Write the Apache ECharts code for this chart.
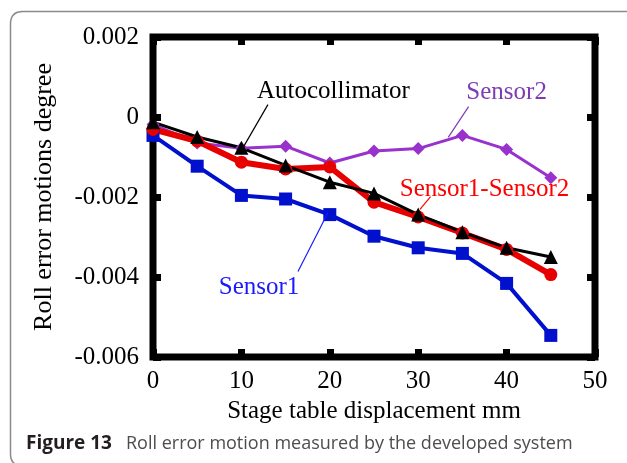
<!DOCTYPE html>
<html>
<head>
<meta charset="utf-8">
<script src="https://cdn.jsdelivr.net/npm/echarts@6/dist/echarts.min.js"></script>
<style>
    html, body { margin: 0; padding: 0; background: #fff; }
    #chart { width: 627px; height: 463px; }
</style>
</head>
<body>
<div id="chart"></div>
<script>
// 数据：位移 (mm) 与四条测量曲线 (degree)
const displacement = [0, 5, 10, 15, 20, 25, 30, 35, 40, 45];
const sensor1 = [-0.00046, -0.00123, -0.00196, -0.00205, -0.00244, -0.00298, -0.00327, -0.00341, -0.00416, -0.00546];
const sensor2 = [-0.00019, -0.00065, -0.00078, -0.00073, -0.00115, -0.00085, -0.00079, -0.00046, -0.00081, -0.00152];
const sensorDiff = [-0.00031, -0.00060, -0.00113, -0.00130, -0.00125, -0.00213, -0.00250, -0.00290, -0.00331, -0.00394];
const autocollimator = [-0.00013, -0.00050, -0.00077, -0.00121, -0.00163, -0.00191, -0.00244, -0.00288, -0.00327, -0.00350];
const yTickLabels = ['-0.006', '-0.004', '-0.002', '0', '0.002'];
const xTickLabels = ['0', '10', '20', '30', '40', '50'];

// 注释文字及引线（数据坐标）
const notes = [
    { text: 'Autocollimator', color: '#000000', at: [20.4, 0.00064], line: [[13.0, 0.00031], [10.2, -0.00076]] },
    { text: 'Sensor2', color: '#7e3cb4', at: [40.0, 0.00061], line: [[35.7, 0.00026], [33.4, -0.00051]] },
    { text: 'Sensor1-Sensor2', color: '#ff0000', at: [37.5, -0.00181], line: [[31.4, -0.00199], [30.2, -0.00231]] },
    { text: 'Sensor1', color: '#1a1aff', at: [12.0, -0.00426], line: [[16.4, -0.00386], [19.8, -0.00239]] }
];

const serif = 'Liberation Serif';
const chart = echarts.init(document.getElementById('chart'));

function pairs(ys) {
    return ys.map((y, i) => [displacement[i], y]);
}

const tickStyle = { inside: true, length: 8, lineStyle: { color: '#000', width: 7 } };
const noLine = { show: false, onZero: false };

const option = {
    animation: false,
    grid: {
        left: 153, right: 32, top: 37, bottom: 106,
        show: true, borderColor: '#000', borderWidth: 7, backgroundColor: 'transparent'
    },
    xAxis: [{
        type: 'value', min: 0, max: 50, interval: 10,
        axisLine: noLine,
        axisTick: tickStyle,
        splitLine: { show: false },
        axisLabel: {
            color: '#000', fontFamily: serif, fontSize: 25, margin: 12,
            formatter: v => xTickLabels[Math.round(v / 10)]
        },
        name: 'Stage table displacement mm',
        nameLocation: 'middle', nameGap: 41,
        nameTextStyle: { color: '#000', fontFamily: serif, fontSize: 25 }
    }, {
        type: 'value', min: 0, max: 50, interval: 10, position: 'top',
        axisLine: noLine, axisTick: tickStyle,
        axisLabel: { show: false }, splitLine: { show: false }
    }],
    yAxis: [{
        type: 'value', min: -0.006, max: 0.002, interval: 0.002,
        axisLine: noLine,
        axisTick: tickStyle,
        splitLine: { show: false },
        axisLabel: {
            color: '#000', fontFamily: serif, fontSize: 25, margin: 14,
            formatter: v => yTickLabels[Math.round((v + 0.006) / 0.002)]
        },
        name: 'Roll error motions degree',
        nameLocation: 'middle', nameGap: 96,
        nameTextStyle: { color: '#000', fontFamily: serif, fontSize: 26 }
    }, {
        type: 'value', min: -0.006, max: 0.002, interval: 0.002, position: 'right',
        axisLine: noLine, axisTick: tickStyle,
        axisLabel: { show: false }, splitLine: { show: false }
    }],
    series: [
        {
            name: 'Sensor1', type: 'line', data: pairs(sensor1),
            symbol: 'rect', symbolSize: 13,
            lineStyle: { color: '#0010cc', width: 4 },
            itemStyle: { color: '#0010cc' }
        },
        {
            name: 'Sensor2', type: 'line', data: pairs(sensor2),
            symbol: 'diamond', symbolSize: 13,
            lineStyle: { color: '#9932cc', width: 3 },
            itemStyle: { color: '#9932cc' }
        },
        {
            name: 'Sensor1-Sensor2', type: 'line', data: pairs(sensorDiff),
            symbol: 'circle', symbolSize: 13,
            lineStyle: { color: '#e60000', width: 6 },
            itemStyle: { color: '#e60000' }
        },
        {
            name: 'Autocollimator', type: 'line', data: pairs(autocollimator),
            symbol: 'triangle', symbolSize: 14,
            lineStyle: { color: '#000', width: 3 },
            itemStyle: { color: '#000' }
        }
    ]
};
chart.setOption(option);

// 注释、外框和图注
const toPx = p => chart.convertToPixel({ gridIndex: 0 }, p);
const graphics = [];
notes.forEach(n => {
    const a = toPx(n.line[0]);
    const b = toPx(n.line[1]);
    const c = toPx(n.at);
    graphics.push({
        type: 'line', shape: { x1: a[0], y1: a[1], x2: b[0], y2: b[1] },
        style: { stroke: n.color, lineWidth: 1.2 }, z: 10
    });
    graphics.push({
        type: 'text', x: c[0], y: c[1], z: 10,
        style: { text: n.text, fill: n.color, font: '25px "Liberation Serif"', align: 'center', verticalAlign: 'middle' }
    });
});
// 外框：左边和上边，左上角圆角
const frame = { stroke: '#8a8a8a', lineWidth: 1.5, fill: null };
graphics.push({ type: 'polyline', silent: true, shape: { points: [[10.5, 454], [10.5, 24]] }, style: frame });
graphics.push({ type: 'polyline', silent: true, shape: { points: [[23, 11.5], [627, 11.5]] }, style: frame });
graphics.push({
    type: 'bezierCurve', silent: true,
    shape: { x1: 10.5, y1: 24, cpx1: 10.5, cpy1: 11.5, x2: 23, y2: 11.5 },
    style: frame
});
graphics.push({
    type: 'bezierCurve', silent: true,
    shape: { x1: 10.5, y1: 454, cpx1: 10.5, cpy1: 466, x2: 23, y2: 466 },
    style: frame
});
// 图注
graphics.push({
    type: 'text', x: 26, y: 444,
    style: {
        text: 'Figure 13', fill: '#231f20', verticalAlign: 'middle',
        font: 'bold 19px "Open Sans"'
    }
});
graphics.push({
    type: 'text', x: 126, y: 444,
    style: {
        text: 'Roll error motion measured by the developed system', fill: '#4d4d4d', verticalAlign: 'middle',
        font: '18px "Open Sans"'
    }
});
chart.setOption({ graphic: graphics });

window.addEventListener('resize', function() {
    chart.resize();
});
</script>
</body>
</html>
